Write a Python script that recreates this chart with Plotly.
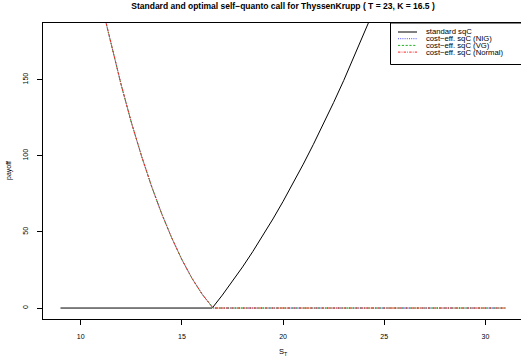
import plotly.graph_objects as go

# ---- data ----
S_std = [9, 16.5, 17, 17.5, 18, 18.5, 19, 19.5, 20, 20.5, 21, 21.5, 22, 22.5, 23, 23.5, 24, 24.5, 25]
payoff_std = [0, 0, 8.5, 17.5, 27, 37, 47.5, 58.5, 70, 82, 94.5, 107.5, 121, 135, 149.5, 164.5, 180, 196, 212.5]

S_ce = [11.0, 11.5, 12.0, 12.5, 13.0, 13.5, 14.0, 14.5, 15.0, 15.5, 16.0, 16.5, 16.55, 31]
payoff_nig = [201, 173, 146.5, 122, 100, 80, 62, 46, 31.8, 19.5, 9.1, 0.7, 0, 0]
payoff_vg = [201, 173, 146.5, 122, 100, 80, 62, 46, 31.8, 19.5, 9.1, 0.7, 0, 0]
payoff_normal = [201.2, 173.1, 146.6, 122.1, 100.1, 80, 62, 46, 31.8, 19.5, 9.1, 0.7, 0, 0]

series_names = ["standard sqC", "cost\u2212eff. sqC (NIG)", "cost\u2212eff. sqC (VG)", "cost\u2212eff. sqC (Normal)"]
x_ticks = [10, 15, 20, 25, 30]
y_ticks = [0, 50, 100, 150]
title_text = "Standard and optimal self\u2212quanto call for ThyssenKrupp ( T = 23, K = 16.5 )"

# ---- styles ----
FONT = "Liberation Sans, Arial, Helvetica, sans-serif"
W, H = 521, 363
ML, MR, MT, MB = 43, 0, 23, 44
PW, PH = W - ML - MR, H - MT - MB

colors = ["black", "#4d4dff", "#22b022", "#ff2020"]
dashes = ["solid", "1px,1.2px", "2.2px,1.6px", "2.4px,1.2px,0.8px,1.2px"]

def px_x(px):
    return (px - ML) / PW

def px_y(py):
    return (H - MB - py) / PH

fig = go.Figure()
fig.add_trace(go.Scatter(x=S_std, y=payoff_std, mode="lines",
                         line=dict(color=colors[0], width=1, dash=dashes[0]),
                         name=series_names[0], showlegend=False))
for vals, c, d, n in zip([payoff_nig, payoff_vg, payoff_normal], colors[1:], dashes[1:], series_names[1:]):
    fig.add_trace(go.Scatter(x=S_ce, y=vals, mode="lines",
                             line=dict(color=c, width=1, dash=d),
                             name=n, showlegend=False))

axis_common = dict(showgrid=False, zeroline=False, showline=True, linecolor="black", linewidth=1,
                   ticks="outside", ticklen=5, tickwidth=1, tickcolor="black",
                   tickfont=dict(family=FONT, size=7, color="black"))

fig.update_xaxes(range=[8.136, 31.76], tickvals=x_ticks, ticktext=[str(v) for v in x_ticks],
                 mirror=True, ticklabelstandoff=6, **axis_common)
fig.update_yaxes(range=[-7.2, 187.2], tickvals=y_ticks, ticktext=[str(v) for v in y_ticks],
                 mirror=False, tickangle=-90, ticklabelstandoff=6, **axis_common)

shapes = []
annotations = []
# legend box
shapes.append(dict(type="rect", xref="paper", yref="paper",
                   x0=px_x(390.5), x1=px_x(523), y0=px_y(64.5), y1=px_y(23),
                   line=dict(color="black", width=1), fillcolor="white", layer="above"))
rows = [32, 38.7, 45.4, 52.1]
for i, (ry, n) in enumerate(zip(rows, series_names)):
    shapes.append(dict(type="line", xref="paper", yref="paper",
                       x0=px_x(398), x1=px_x(417), y0=px_y(ry), y1=px_y(ry),
                       line=dict(color=colors[i], width=1, dash=dashes[i]), layer="above"))
    annotations.append(dict(text=n, xref="paper", yref="paper", x=px_x(424), y=px_y(ry),
                            xanchor="left", yanchor="middle", showarrow=False,
                            font=dict(family=FONT, size=7.7, color="black")))

# axis titles
annotations.append(dict(text="S<sub>T</sub>", xref="paper", yref="paper", x=px_x(283), y=px_y(352),
                        xanchor="center", yanchor="middle", showarrow=False,
                        font=dict(family=FONT, size=7.5, color="black")))
annotations.append(dict(text="payoff", xref="paper", yref="paper", x=px_x(9), y=px_y(171),
                        xanchor="center", yanchor="middle", showarrow=False, textangle=-90,
                        font=dict(family=FONT, size=7, color="black")))

fig.update_layout(
    width=W, height=H, autosize=False,
    margin=dict(l=ML, r=MR, t=MT, b=MB, pad=0),
    paper_bgcolor="white", plot_bgcolor="white",
    title=dict(text="<b>" + title_text + "</b>", x=px_x(283), xref="paper",
               y=1 - 5.8 / H, yref="container", xanchor="center", yanchor="middle",
               font=dict(family=FONT, size=8.5, color="black")),
    shapes=shapes, annotations=annotations, showlegend=False,
)

fig.write_html("out.html")
